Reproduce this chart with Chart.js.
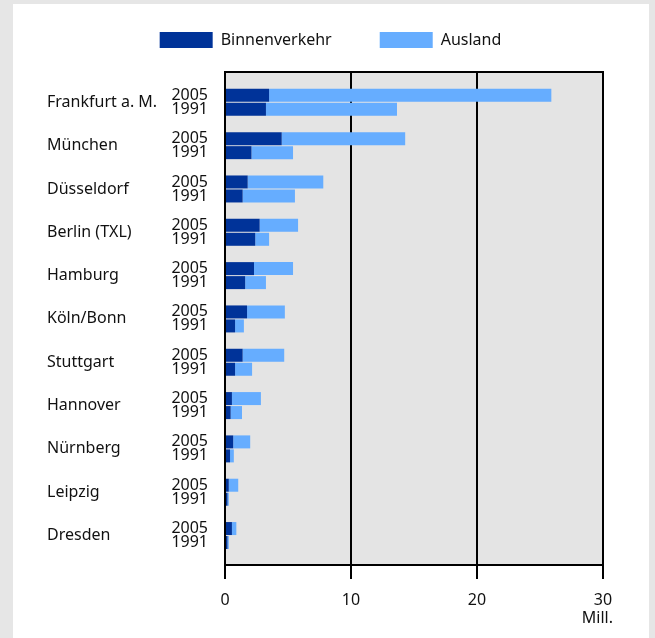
<!DOCTYPE html>
<html>
<head>
<meta charset="utf-8">
<script src="https://cdn.jsdelivr.net/npm/chart.js@4"></script>
<style>
  html, body { margin: 0; padding: 0; background: #e6e6e6; }
</style>
</head>
<body>
<canvas id="chartFlughaefen" width="655" height="638"></canvas>
<script>
// Fluggäste nach Flughafen, Mill.
const flughaefen = ['Frankfurt a. M.', 'München', 'Düsseldorf', 'Berlin (TXL)', 'Hamburg', 'Köln/Bonn', 'Stuttgart', 'Hannover', 'Nürnberg', 'Leipzig', 'Dresden'];
const jahre = ['2005', '1991'];
const binnen2005 = [3.5, 4.5, 1.8, 2.75, 2.3, 1.75, 1.4, 0.55, 0.65, 0.3, 0.55];
const ausland2005 = [22.4, 9.8, 6.0, 3.05, 3.1, 3.0, 3.3, 2.3, 1.35, 0.75, 0.35];
const binnen1991 = [3.25, 2.1, 1.4, 2.4, 1.6, 0.8, 0.8, 0.45, 0.4, 0.2, 0.2];
const ausland1991 = [10.4, 3.3, 4.15, 1.1, 1.65, 0.7, 1.35, 0.9, 0.3, 0.1, 0.1];
const xTicks = [0, 10, 20, 30];

const dunkel = '#003399';
const hell = '#66adff';

Chart.defaults.font.family = '"Noto Sans", sans-serif';
Chart.defaults.font.size = 16;
Chart.defaults.color = '#111';

function punkte(werte) {
    return werte.map((v, i) => ({ y: i, x: v }));
}

const rahmen = {
    id: 'rahmen',
    beforeDraw(chart) {
        const { ctx, chartArea: a } = chart;
        ctx.save();
        ctx.fillStyle = '#e6e6e6';
        ctx.fillRect(0, 0, chart.width, chart.height);
        ctx.fillStyle = '#ffffff';
        ctx.fillRect(13, 4, 636, chart.height - 4);
        ctx.fillStyle = '#e4e4e4';
        ctx.fillRect(a.left, a.top, a.right - a.left, a.bottom - a.top);
        ctx.restore();
    },
    afterDraw(chart) {
        const { ctx } = chart;
        const x = chart.scales.x;
        ctx.save();
        ctx.font = '16px "Noto Sans", sans-serif';
        ctx.fillStyle = '#111';
        ctx.textAlign = 'right';
        ctx.textBaseline = 'middle';
        ctx.fillText('Mill.', x.getPixelForValue(30) + 10, 618);
        ctx.restore();
    }
};

const yBasis = {
    type: 'linear',
    reverse: true,
    offset: false,
    min: -0.7,
    max: 10.68,
    afterBuildTicks: s => { s.ticks = flughaefen.map((_, i) => ({ value: i })); },
    grid: { display: false, drawTicks: false, offset: false },
    border: { display: false }
};

let ctx = document.getElementById('chartFlughaefen').getContext('2d');
let chartFlughaefen = new Chart(ctx, {
    type: 'bar',
    data: {
        datasets: [
            { label: 'Binnenverkehr', data: punkte(binnen2005), backgroundColor: dunkel, stack: '2005' },
            { label: 'Ausland', data: punkte(ausland2005), backgroundColor: hell, stack: '2005' },
            { label: 'Binnenverkehr', data: punkte(binnen1991), backgroundColor: dunkel, stack: '1991' },
            { label: 'Ausland', data: punkte(ausland1991), backgroundColor: hell, stack: '1991' }
        ]
    },
    options: {
        indexAxis: 'y',
        responsive: false,
        animation: false,
        categoryPercentage: 0.646,
        barPercentage: 0.929,
        layout: { padding: { top: -16, left: 47, right: 41, bottom: 0 } },
        plugins: {
            tooltip: { enabled: false },
            legend: {
                position: 'top',
                align: 'center',
                labels: {
                    boxWidth: 53,
                    boxHeight: 16,
                    padding: 48,
                    color: '#111',
                    filter: item => item.datasetIndex < 2
                }
            }
        },
        scales: {
            x: {
                type: 'linear',
                stacked: true,
                min: 0,
                max: 30,
                z: 1,
                afterBuildTicks: s => { s.ticks = xTicks.map(v => ({ value: v })); },
                ticks: { padding: 12, color: '#111' },
                grid: { color: '#000', lineWidth: 2, drawTicks: true, tickLength: 14, tickColor: '#000', tickWidth: 2 },
                border: { color: '#000', width: 2 },
                afterFit: s => { s.height = 73; }
            },
            xOben: {
                type: 'linear',
                position: 'top',
                min: 0,
                max: 30,
                z: 1,
                ticks: { display: false },
                grid: { display: false, drawTicks: false },
                border: { color: '#000', width: 2 },
                afterFit: s => { s.height = 14; }
            },
            y: {
                ...yBasis,
                position: 'left',
                weight: 1,
                z: 1,
                border: { display: true, color: '#000', width: 2 },
                ticks: { callback: () => jahre, padding: 17, font: { size: 16, lineHeight: 0.875 } },
                afterFit: s => { s.width = 58; }
            },
            yName: {
                ...yBasis,
                position: 'left',
                weight: 2,
                ticks: { callback: v => flughaefen[v], crossAlign: 'far', padding: 0 },
                afterFit: s => { s.width = 120; }
            },
            rechts: {
                type: 'linear',
                position: 'right',
                ticks: { display: false },
                grid: { display: false, drawTicks: false },
                border: { display: false },
                afterFit: s => { s.width = 11; }
            }
        }
    },
    plugins: [rahmen]
});
</script>
</body>
</html>
